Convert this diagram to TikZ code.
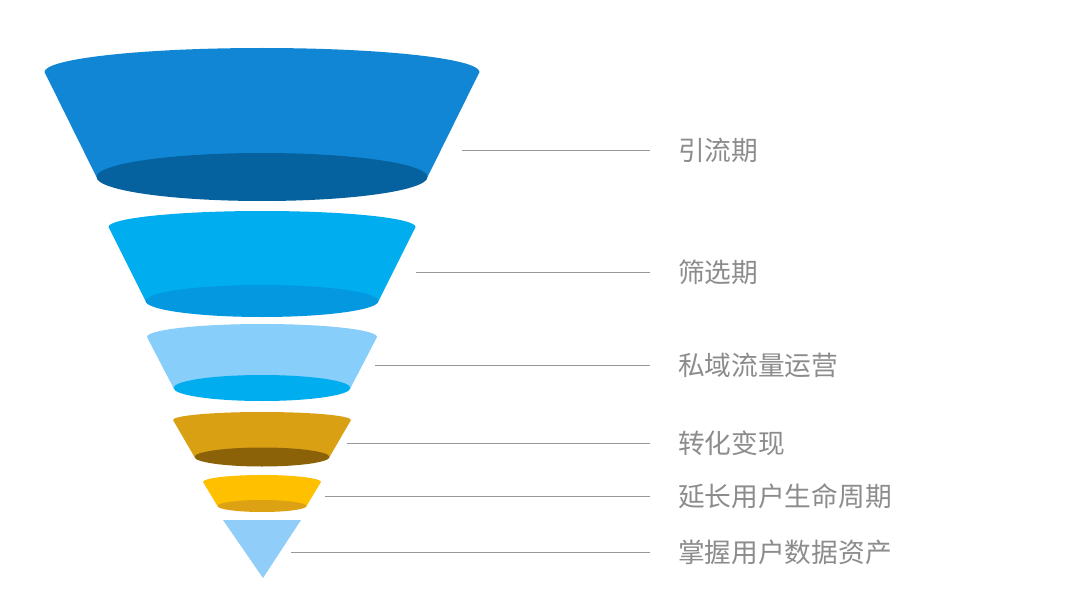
\documentclass[tikz,border=0pt]{standalone}
\usepackage{fontspec}
\newfontfamily\cjk{Noto Sans CJK SC}
\usepackage{tikz}
\usetikzlibrary{positioning,calc}
\definecolor{kek1}{HTML}{1186D4}
\definecolor{kek1s}{HTML}{05629F}
\definecolor{kek2}{HTML}{00ADEE}
\definecolor{kek2s}{HTML}{0398DF}
\definecolor{kek3}{HTML}{88CEFA}
\definecolor{arany}{HTML}{D9A014}
\definecolor{aranys}{HTML}{8C6208}
\definecolor{sarga}{HTML}{FFC000}
\definecolor{sargas}{HTML}{DCA214}
\definecolor{csucs}{HTML}{90CDF8}
\definecolor{szurke}{HTML}{8C8C8C}
\tikzset{
  szoveg/.style={anchor=west,inner sep=0pt,outer xsep=0.7cm,text=szurke,
                 font=\cjk\fontsize{19pt}{22pt}\selectfont},
  vonal/.style={draw=szurke!90,line width=0.6pt},
}
\begin{document}
\begin{tikzpicture}[x=0.025cm,y=0.025cm]
  \useasboundingbox[fill=white] (0,0) rectangle (1080,608);
  % retegek: felso ellipszis, also ellipszis, szinek
  \foreach \ty/\trx/\try/\by/\brx/\bry/\c/\d in {
      536/217.5/24/431/165.5/24/kek1/kek1s,
      381/153.5/16/307/116.5/16/kek2/kek2s,
      271/115/13/220/88.5/13/kek3/kek2,
      188/89/8/151/67.5/9.5/arany/aranys,
      126/59/7/102/44.5/6/sarga/sargas}{
    \fill[\c] (262-\trx,\ty) arc[start angle=180,end angle=0,x radius=\trx,y radius=\try]
      -- (262+\brx,\by) -- (262-\brx,\by) -- cycle;
    \fill[\d] (262,\by) ellipse[x radius=\brx,y radius=\bry];
  }
  \fill[csucs] (223,88) -- (301,88) -- (263,30) -- cycle;
  % cimkek
  \coordinate (p1) at (462,458);
  \coordinate (p2) at (416,336);
  \coordinate (p3) at (375,243);
  \coordinate (p4) at (347,165);
  \coordinate (p5) at (325,112);
  \coordinate (p6) at (291,56);
  \node[szoveg] (f1) at (650,458) {引流期};
  \node[szoveg] (f2) at (650,336) {筛选期};
  \node[szoveg] (f3) at (650,243) {私域流量运营};
  \node[szoveg] (f4) at (650,165) {转化变现};
  \node[szoveg] (f5) at (650,112) {延长用户生命周期};
  \node[szoveg] (f6) at (650,56) {掌握用户数据资产};
  \foreach \i in {1,...,6}
    \draw[vonal] (p\i) -- (p\i -| f\i.west);
\end{tikzpicture}
\end{document}
